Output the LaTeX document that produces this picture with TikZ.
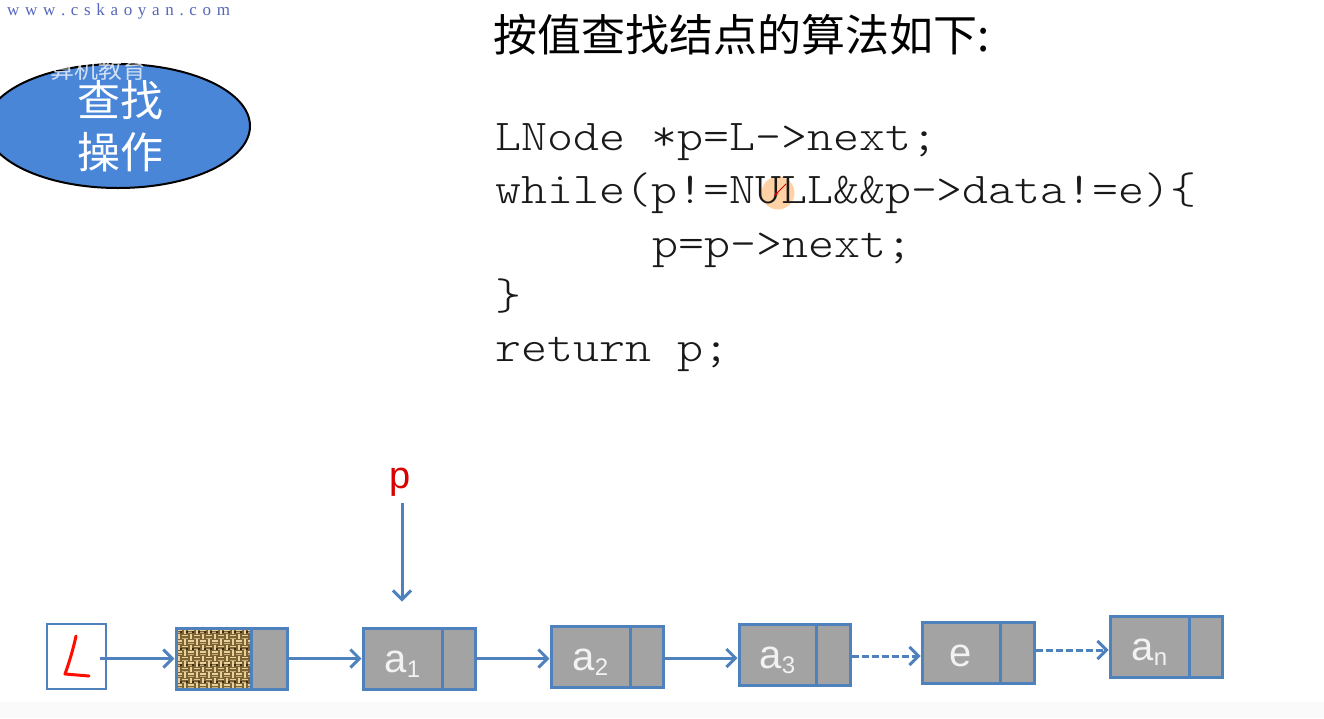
\documentclass[tikz,border=0pt]{standalone}
\usepackage{fontspec}
\setmainfont{Liberation Sans}
\newfontfamily\cjk{Noto Sans CJK SC}
\newfontfamily\codefont[FakeStretch=1.125]{Latin Modern Mono Light}
\newfontfamily\webfont{Liberation Serif}
\usetikzlibrary{arrows.meta,calc,shapes.geometric}
\definecolor{lineblue}{HTML}{4F81BD}
\definecolor{cellgrey}{HTML}{A3A3A3}
\definecolor{ovalblue}{HTML}{4A86D8}
\definecolor{sack}{HTML}{7D6234}
\definecolor{sacklight}{HTML}{E8D29C}
\definecolor{sackdark}{HTML}{3A2B12}
\definecolor{webblue}{HTML}{5566BB}
\tikzset{
  datacell/.style={draw=lineblue,line width=3pt,fill=cellgrey,minimum width=#1,minimum height=61pt,inner sep=0pt,text=white!95!black,font=\fontsize{40}{42}\selectfont},
  nextcell/.style={draw=lineblue,line width=3pt,fill=cellgrey,minimum height=61pt,inner sep=0pt,minimum width=#1},
  linkarrow/.style={draw=lineblue,line width=3pt,-{Straight Barb[length=9pt,width=18pt,line width=3pt]}},
  linkdash/.style={linkarrow,dash pattern=on 7pt off 3pt},
  codeline/.style={anchor=base west,inner sep=0pt,font=\codefont\fontsize{44}{48}\selectfont,text=black!90},
}
\newcommand{\celltxt}[2]{\smash{\raisebox{-13.5pt}{#1\raisebox{-5pt}{\fontsize{24}{26}\selectfont #2}}}}
\begin{document}
\begin{tikzpicture}[x=1pt,y=-1pt]
\useasboundingbox (0,0) rectangle (1324,718);
\fill[white] (0,0) rectangle (1324,718);
\fill[black!2] (0,702) rectangle (1324,718);
\begin{scope}
\clip (0,0) rectangle (1324,718);
\node[draw=black,line width=2pt,fill=ovalblue,ellipse,minimum width=264pt,minimum height=124pt,inner sep=0pt] (oval) at (118,126) {};
\end{scope}
\node[text=white,opacity=.75,font=\cjk\fontsize{24}{26}\selectfont,inner sep=0pt] (wm) at (98,69) {算机教育};
\node[text=white,font=\cjk\fontsize{43}{45}\selectfont,inner sep=0pt] (t1) at (120,100) {查找};
\node[text=white,font=\cjk\fontsize{43}{45}\selectfont,inner sep=0pt] (t2) at (120,152) {操作};
\node[text=webblue,font=\webfont\fontsize{17}{19}\selectfont,inner sep=0pt,anchor=base west] (web) at (7,15) {w\,\,w\,\,w\,\,.\,\,c\,\,s\,\,k\,\,a\,\,o\,\,y\,\,a\,\,n\,\,.\,\,c\,\,o\,\,m};
% title
\node[anchor=base west,inner sep=0pt,text=black,font=\cjk\fontsize{44}{46}\selectfont] (title) at (493,51) {按值查找结点的算法如下:};
% cursor highlight (behind code)
\node[circle,fill=orange!35,minimum size=33pt,inner sep=0pt] (spot) at (778,193) {};
% code
\node[codeline] (c1) at (495,150) {LNode *p=L->next;};
\node[codeline] (c2) at (495,203) {while(p!=NULL\&\&p->data!=e)\{};
\node[codeline] (c3) at (652,257) {p=p->next;};
\node[codeline] (c4) at (495,309) {\}};
\node[codeline] (c5) at (495,361) {return p;};
\draw[red!80!black,line width=1pt,-{Stealth[length=5pt]}] (spot.center) ++(8,-9) -- ++(-12,12);
% L box
\node[draw=lineblue,line width=1.6pt,fill=white,minimum width=59pt,minimum height=65pt,inner sep=0pt] (L) at (76.5,656.5) {};
\draw[red!90!orange,line width=3pt,line cap=round,line join=round] (76,636) .. controls (73,650) and (69,663) .. (65,674) -- (89,676);
% head
\node[nextcell=75pt,fill=sack] (h) at (213.5,658.5) {};
\node[nextcell=36pt] (hn) at (269,658.5) {};
\begin{scope}
\clip (177,629.5) rectangle (250,688);
\foreach \i in {0,...,12}{
  \foreach \j in {0,...,11}{
    \pgfmathtruncatemacro{\k}{mod(\i+\j,2)}
    \pgfmathtruncatemacro{\q}{mod(\i*3+\j*5,3)}
    \ifnum\k=0
      \fill[sacklight] (176+\i*6,629+\j*5.5) rectangle ++(6,1.8);
      \fill[sacklight!70!sack] (176+\i*6,632+\j*5.5) rectangle ++(6,1.2);
    \else
      \fill[sacklight] (177.5+\i*6,628+\j*5.5) rectangle ++(2,5.5);
    \fi
    \ifnum\q=0
      \fill[sackdark] (180+\i*6,631+\j*5.5) rectangle ++(2,2);
    \fi
  }
}
\end{scope}
\node[draw=lineblue,line width=3pt,minimum width=75pt,minimum height=61pt,inner sep=0pt] (hframe) at (213.5,658.5) {};
% cells
\node[datacell=79pt] (a1) at (402.5,658.5) {\celltxt{a}{1}};
\node[nextcell=33pt] (a1n) at (458.5,658.5) {};
\node[datacell=79pt] (a2) at (590.5,656.5) {\celltxt{a}{2}};
\node[nextcell=33pt] (a2n) at (646.5,656.5) {};
\node[datacell=77pt] (a3) at (777.5,654.5) {\celltxt{a}{3}};
\node[nextcell=34pt] (a3n) at (833,654.5) {};
\node[datacell=78pt] (e) at (961,652.5) {\smash{\raisebox{-14pt}{e}}\hspace{12pt}};
\node[nextcell=34pt] (en) at (1017,652.5) {};
\node[datacell=79pt] (an) at (1149.5,646.5) {\celltxt{a}{n}};
\node[nextcell=33pt] (ann) at (1205.5,646.5) {};
% pointer p
\node[text=red!85!black,font=\fontsize{38}{40}\selectfont,inner sep=0pt,anchor=base] (p) at (400,488) {p};
% connectors
\coordinate (Lstart) at ($(L.east)+(-7,2)$);
\draw[linkarrow] (Lstart) -- (Lstart -| h.west);
\draw[linkarrow] (hn.east) -- (a1.west);
\draw[linkarrow] ([yshift=-1.5pt]a2n.east) -- ([yshift=-3.5pt]a3.west);
\draw[linkarrow] (a1n.east) -- ([yshift=-2pt]a2.west);
\draw[linkdash] ([yshift=-1.5pt]a3n.east) -- ([yshift=-3.5pt]e.west);
\draw[linkdash] ([yshift=2.5pt]en.east) -- ([yshift=-3.5pt]an.west);
\draw[linkarrow] ([xshift=2pt,yshift=-7pt]p.south) -- ([xshift=-0.5pt,yshift=25pt]a1.north);
\end{tikzpicture}
\end{document}
